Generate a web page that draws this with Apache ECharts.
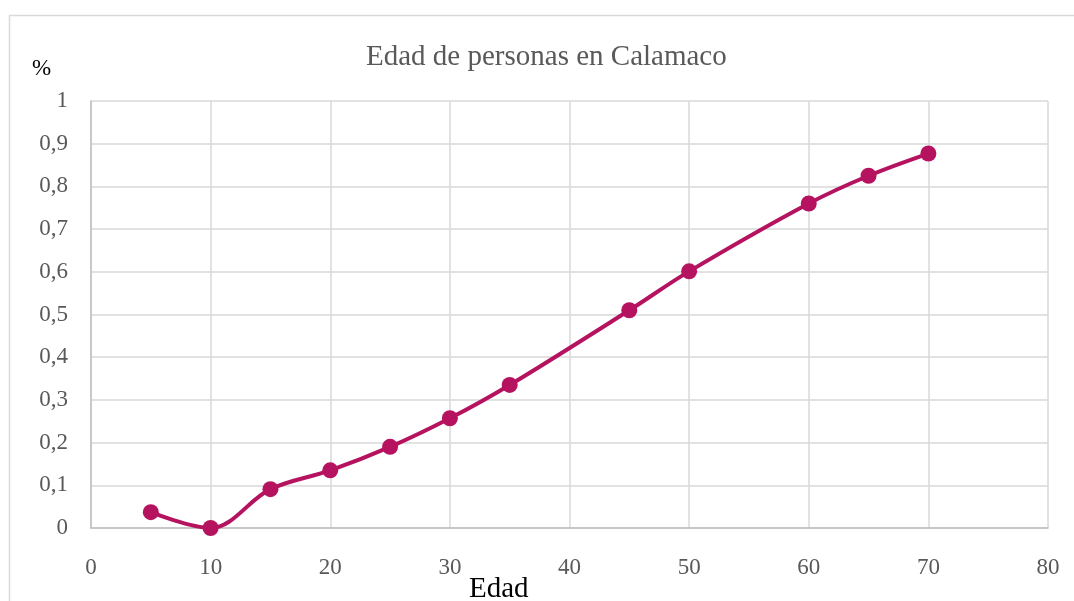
<!DOCTYPE html>
<html>
<head>
<meta charset="utf-8">
<script src="https://cdn.jsdelivr.net/npm/echarts@6/dist/echarts.min.js"></script>
<style>
html, body { margin: 0; padding: 0; background: #fff; overflow: hidden; }
#chart { width: 1074px; height: 601px; }
</style>
</head>
<body>
<div id="chart"></div>
<script>
// edades y porcentajes
var edades = [5, 10, 15, 20, 25, 30, 35, 45, 50, 60, 65, 70];
var porcentajes = [0.037, 0, 0.091, 0.135, 0.19, 0.257, 0.335, 0.51, 0.601, 0.76, 0.825, 0.877];

var puntos = edades.map(function (e, i) { return [e, porcentajes[i]]; });
var fuente = '"Liberation Serif", "DejaVu Serif", serif';

var myChart = echarts.init(document.getElementById('chart'));
var option = {
	backgroundColor: '#fff',
	animation: false,
	graphic: [{
		type: 'rect',
		shape: { x: 9.5, y: 15.5, width: 1080, height: 600 },
		style: { fill: 'none', stroke: '#d9d9d9', lineWidth: 1.5 },
		silent: true
	}, {
		type: 'text',
		left: 32, top: 57,
		style: { text: '%', font: '23px ' + fuente, fill: '#000' }
	}, {
		type: 'text',
		left: 469, top: 575,
		style: { text: 'Edad', font: '29px ' + fuente, fill: '#000' }
	}, {
		type: 'text',
		left: 366, top: 43,
		style: { text: 'Edad de personas en Calamaco', font: '29px ' + fuente, fill: '#595959' }
	}],
	grid: { left: 91, top: 101, width: 957, height: 427, containLabel: false },
	xAxis: {
		type: 'value',
		min: 0, max: 80, interval: 10,
		axisLine: { show: true, lineStyle: { color: '#bfbfbf', width: 1.5 } },
		axisTick: { show: false },
		splitLine: { show: true, lineStyle: { color: '#d9d9d9', width: 1.5 } },
		axisLabel: { margin: 28, fontFamily: fuente, fontSize: 23, color: '#595959' }
	},
	yAxis: {
		type: 'value',
		min: 0, max: 1, interval: 0.1,
		axisLine: { show: true, lineStyle: { color: '#bfbfbf', width: 1.5 } },
		axisTick: { show: false },
		splitLine: { show: true, lineStyle: { color: '#d9d9d9', width: 1.5 } },
		axisLabel: {
			margin: 23,
			fontFamily: fuente, fontSize: 23, color: '#595959',
			formatter: function (v) { return String(Math.round(v * 10) / 10).replace('.', ','); }
		}
	},
	series: [{
		type: 'line',
		data: puntos,
		smooth: 0.35,
		symbol: 'circle',
		symbolSize: 16,
		lineStyle: { color: '#b5135f', width: 4 },
		itemStyle: { color: '#b5135f' }
	}]
};
myChart.setOption(option);
</script>
</body>
</html>
